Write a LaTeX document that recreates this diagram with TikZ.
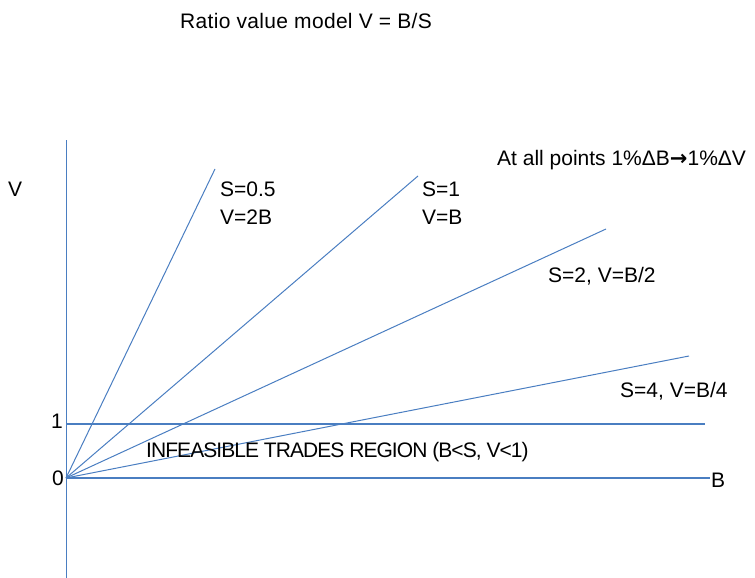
\documentclass[tikz,border=0pt]{standalone}
\usepackage{fontspec}
\setmainfont{Liberation Sans}
\newfontfamily\arrowfont{DejaVu Sans}[BoldFont={DejaVu Sans Bold}]
\usepackage{tikz}

\definecolor{lineblue}{RGB}{74,126,193}

\tikzset{
	lbl/.style={inner sep=0pt, anchor=base west, font=\fontsize{21}{27}\selectfont},
	axis/.style={draw=lineblue, line width=2pt},
	ray/.style={draw=lineblue, line width=1pt}
}

\begin{document}
\begin{tikzpicture}[x=1pt,y=-1pt]
	\useasboundingbox (0,0) rectangle (755,578);
	
	\node[lbl] (title) at (180, 29) {\addfontfeature{LetterSpace=1.5}Ratio value model V = B/S};
	
	% axes and the V=1 line
	\coordinate (o)    at (66, 478);
	\coordinate (vtop) at (66, 140);
	\coordinate (vbot) at (66, 578);
	\coordinate (bend) at (710, 478);
	\coordinate (one0) at (66, 424);
	\coordinate (one1) at (705, 424);
	
	\path[ray] (vbot) edge (vtop);
	\path[axis] (o) edge (bend);
	\path[axis] (one0) edge (one1);
	
	\node[lbl, anchor=base east] (zero) at (64, 485) {0};
	\node[lbl, anchor=base east] (unit) at (63, 428) {1};
	\node[lbl] (blab) at (711, 487) {B};
	\node[lbl] (vlab) at (8, 196) {V};
	
	% rays V = B/S
	\coordinate (s05) at (215, 169);
	\coordinate (s1)  at (418, 176);
	\coordinate (s2)  at (606, 229);
	\coordinate (s4)  at (689, 356);
	
	\path[ray] (o) edge (s05);
	\path[ray] (o) edge (s1);
	\path[ray] (o) edge (s2);
	\path[ray] (o) edge (s4);
	
	\node[lbl] (l05a) at (220, 196) {S=0.5};
	\node[lbl] (l05b) at (220, 224) {V=2B};
	\node[lbl] (l1a)  at (422, 196) {S=1};
	\node[lbl] (l1b)  at (422, 224) {V=B};
	\node[lbl] (l2)   at (548, 282) {S=2, V=B/2};
	\node[lbl] (l4)   at (620, 397) {S=4, V=B/4};
	
	\node[lbl] (note) at (497, 165) {At all points 1\%ΔB{\arrowfont\bfseries →}1\%ΔV};
	\node[lbl] (infeas) at (146, 457)
		{\addfontfeature{LetterSpace=-4.5}INFEASIBLE TRADES REGION (B<S, V<1)};
	
\end{tikzpicture}
\end{document}
